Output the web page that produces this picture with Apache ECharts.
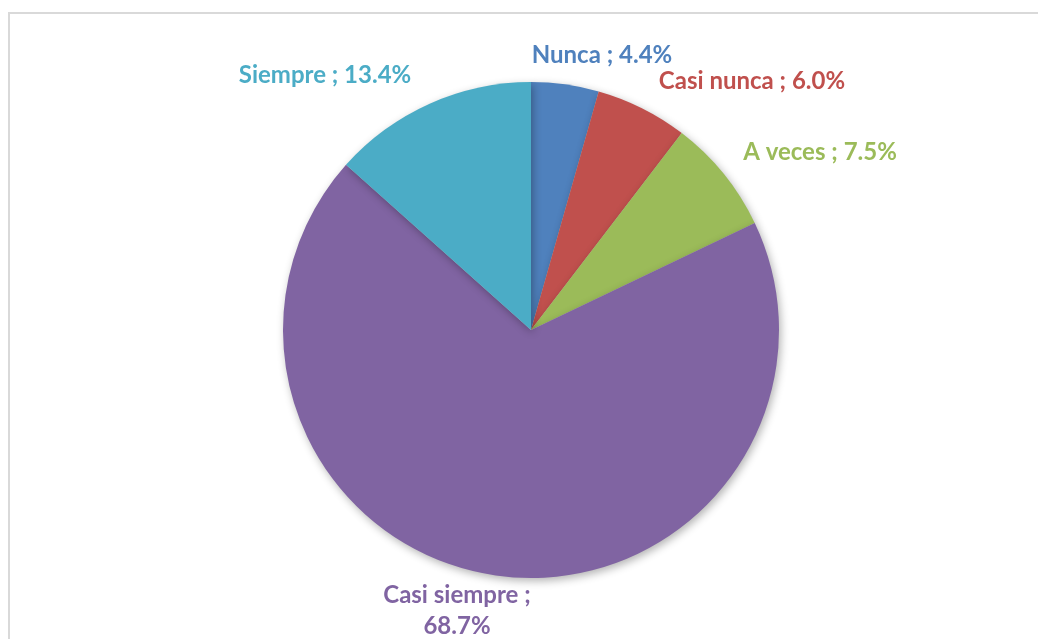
<!DOCTYPE html>
<html>
<head>
<meta charset="utf-8">
<script src="https://cdn.jsdelivr.net/npm/echarts@6/dist/echarts.min.js"></script>
<style>
  html, body { margin: 0; padding: 0; background: #fff; }
  #chart { width: 1038px; height: 639px; }
</style>
</head>
<body>
<div id="chart"></div>
<script>
const categories = ['Nunca', 'Casi nunca', 'A veces', 'Casi siempre', 'Siempre']
const values = [4.4, 6.0, 7.5, 68.7, 13.4]
const colors = ['#4F81BD', '#C0504D', '#9BBB59', '#8064A2', '#4BACC6']
// label anchor points (centre of text), as placed in the original
const labelSpots = [[602, 55], [752, 81], [820, 152], [457, 611], [325, 75]]

const chart = echarts.init(document.getElementById('chart'))

const option = {
  backgroundColor: '#fff',
  animation: false,
  graphic: [{
    type: 'rect',
    shape: { x: 9, y: 13, width: 1040, height: 640 },
    style: { fill: 'none', stroke: '#d9d9d9', lineWidth: 2 }
  }],
  series: [{
    type: 'pie',
    center: [531, 330],
    radius: 248,
    startAngle: 90,
    clockwise: true,
    data: categories.map((name, i) => ({
      name,
      value: values[i],
      itemStyle: { color: colors[i] },
      label: { color: colors[i] }
    })),
    itemStyle: {
      shadowBlur: 8,
      shadowOffsetX: 2,
      shadowOffsetY: 3,
      shadowColor: 'rgba(0,0,0,0.3)'
    },
    label: {
      show: true,
      position: 'outside',
      fontFamily: 'Lato',
      fontWeight: 'bold',
      fontSize: 24,
      lineHeight: 31,
      formatter: (p) => p.name === 'Casi siempre'
        ? p.name + ' ;\n' + p.value.toFixed(1) + '%'
        : p.name + ' ; ' + p.value.toFixed(1) + '%'
    },
    labelLine: { show: false },
    labelLayout: (params) => ({
      x: labelSpots[params.dataIndex][0],
      y: labelSpots[params.dataIndex][1],
      align: 'center',
      verticalAlign: 'middle'
    })
  }]
}

chart.setOption(option)
</script>
</body>
</html>
